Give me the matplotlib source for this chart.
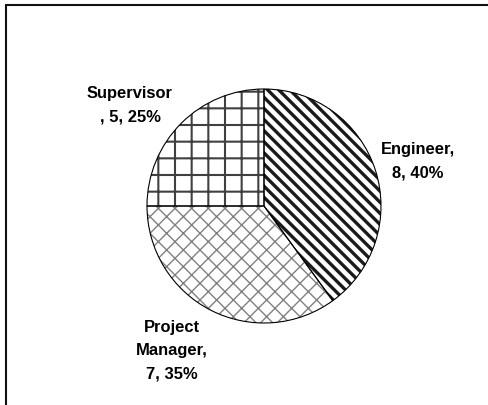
import matplotlib.pyplot as plt
from matplotlib.patches import Rectangle

# Data
roles = ["Engineer", "Project Manager", "Supervisor"]
counts = [8, 7, 5]
percents = [40, 35, 25]
label_text = ["Engineer,\n8, 40%", "Project\nManager,\n7, 35%", "Supervisor\n, 5, 25%"]

hatches = ["\\\\\\", "xx", "+"]
hatch_colors = ["#1a1a1a", "#808080", "#404040"]
hatch_widths = [2.4, 1.0, 1.5]

plt.rcParams['font.family'] = ['Liberation Sans', 'DejaVu Sans']

fig = plt.figure(figsize=(4.88, 4.06), dpi=100)
ax = fig.add_axes([0, 0, 1, 1])

center = (264, 406 - 207)
radius = 117

# hatched fills (hatch colour comes from edgecolor)
wedges, _ = ax.pie(counts, startangle=90, counterclock=False, center=center, radius=radius,
                   wedgeprops=dict(facecolor="white", linewidth=0))
for w, h, hc, hw in zip(wedges, hatches, hatch_colors, hatch_widths):
    w.set_hatch(h)
    w.set_edgecolor(hc)
    if hasattr(w, "set_hatch_linewidth"):
        w.set_hatch_linewidth(hw)

# black outlines on top
ax.pie(counts, startangle=90, counterclock=False, center=center, radius=radius,
       wedgeprops=dict(fill=False, edgecolor="black", linewidth=0.8))

# data labels
label_pos = [(418, 161), (172, 351), (130, 105)]
for txt, (x, y) in zip(label_text, label_pos):
    ax.text(x, 406 - y, txt, ha="center", va="center", fontsize=11.9,
            fontweight="bold", linespacing=1.7, multialignment="center")

ax.set_xlim(0, 488)
ax.set_ylim(0, 406)
ax.set_aspect("equal")
ax.axis("off")

# chart area border
fig.add_artist(Rectangle((6 / 488, -0.1), 1.1, 1 - 6 / 406 + 0.1, transform=fig.transFigure,
                         fill=False, edgecolor="#111111", linewidth=1.5))

fig.savefig("out.png", dpi=100)
